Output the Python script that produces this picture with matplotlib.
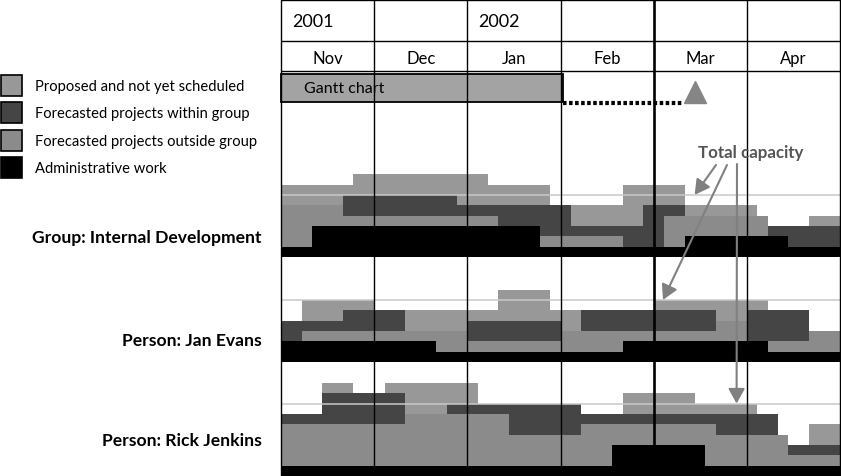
import numpy as np
import matplotlib
matplotlib.use("Agg")
import matplotlib.pyplot as plt
from matplotlib.patches import Rectangle

plt.rcParams["font.family"] = ["Lato", "DejaVu Sans"]

# ── data ────────────────────────────────────────────────────────────────────
# time in ninths of a month (~3 days) counted from 1 Nov 2001
months = ["Nov", "Dec", "Jan", "Feb", "Mar", "Apr"]
years = ["2001", "", "2002", "", "", ""]
today_month = 4          # Mar 2002 (heavy line)

gantt_end = 3.03         # months
milestone = 40           # ninths

layer_names = ["Administrative work", "Forecasted projects outside group",
               "Forecasted projects within group", "Proposed and not yet scheduled"]
layer_colors = ["#000000", "#8b8b8b", "#454545", "#989898"]

# Group: Internal Development
group_edges = [0, 3, 6, 7, 17, 20, 21, 25, 26, 28, 33, 35, 37, 39, 46, 47, 49, 51, 54]
group_admin = [1, 3, 3, 3, 3, 3, 3, 1, 1, 1, 1, 1, 1, 2, 2, 2, 1, 1]
group_outside = [4, 2, 1, 1, 1, 1, 0, 1, 1, 1, 0, 0, 3, 2, 2, 0, 0, 0]
group_within = [0, 0, 2, 2, 1, 1, 2, 3, 3, 1, 2, 4, 1, 0, 0, 1, 2, 2]
group_proposed = [2, 2, 1, 2, 3, 2, 2, 2, 0, 2, 4, 2, 2, 1, 0, 0, 0, 1]
group_capacity = 6

# Person: Jan Evans
jan_edges = [0, 2, 6, 9, 12, 15, 18, 21, 26, 27, 29, 33, 36, 42, 45, 47, 51, 54]
jan_admin = [2, 2, 2, 2, 2, 1, 1, 1, 1, 1, 1, 2, 2, 2, 2, 1, 1]
jan_outside = [0, 1, 1, 1, 1, 2, 1, 1, 1, 2, 2, 1, 1, 2, 0, 1, 2]
jan_within = [2, 1, 2, 2, 0, 0, 2, 2, 2, 0, 2, 2, 2, 0, 3, 3, 0]
jan_proposed = [0, 2, 1, 0, 2, 2, 1, 3, 1, 2, 0, 0, 1, 2, 1, 0, 0]
jan_capacity = 6

# Person: Rick Jenkins
rick_edges = [0, 4, 7, 10, 12, 16, 19, 22, 29, 32, 33, 40, 41, 42, 46, 48, 49, 51, 54]
rick_admin = [1, 1, 1, 1, 1, 1, 1, 1, 1, 3, 3, 3, 1, 1, 1, 1, 1, 1]
rick_outside = [4, 4, 4, 4, 5, 5, 5, 3, 4, 2, 2, 2, 4, 3, 3, 3, 1, 1]
rick_within = [1, 3, 3, 3, 0, 1, 1, 3, 1, 1, 1, 1, 1, 2, 2, 0, 1, 1]
rick_proposed = [0, 1, 0, 1, 3, 2, 0, 0, 0, 0, 2, 1, 1, 1, 0, 0, 0, 2]
rick_capacity = 7

sections = [
    ("Group: Internal Development", group_edges,
     [group_admin, group_outside, group_within, group_proposed], group_capacity, 258),
    ("Person: Jan Evans", jan_edges,
     [jan_admin, jan_outside, jan_within, jan_proposed], jan_capacity, 363),
    ("Person: Rick Jenkins", rick_edges,
     [rick_admin, rick_outside, rick_within, rick_proposed], rick_capacity, 477),
]

# ── figure ──────────────────────────────────────────────────────────────────
W, H = 841, 477
X0, X1 = 281, 840
UNIT = 10.35             # px per load unit
fig = plt.figure(figsize=(W / 100, H / 100), dpi=100)

sec_axes = []
for label, edges, layers, cap, base in sections:
    ax = fig.add_axes([X0 / W, 1 - base / H, (X1 - X0) / W, 9 * UNIT / H])
    ax.set_xlim(0, 6)
    ax.set_ylim(0, 9)
    ax.axis("off")
    x = np.array(edges) / 9
    lower = np.zeros(len(edges) - 1)
    for vals, color in zip(layers, layer_colors):
        upper = lower + np.array(vals)
        ax.fill_between(x, np.append(lower, lower[-1]), np.append(upper, upper[-1]),
                        step="post", color=color, lw=0, antialiased=False)
        lower = upper
    ax.axhline(cap, color="#c9c9c9", lw=1.1)
    sec_axes.append(ax)

# month grid, header and gantt bar
gx = fig.add_axes([X0 / W, 0, (X1 - X0) / W, 1])
gx.set_xlim(0, 6)
gx.set_ylim(H, 0)
gx.axis("off")
gx.set_zorder(5)
for m in range(len(months) + 1):
    gx.axvline(m, color="black", lw=1.9 if m == today_month else 1.0, clip_on=False)
gx.hlines([0.6, 42, 72], 0, len(months), color="black", lw=1.0, clip_on=False)
for i, (mon, yr) in enumerate(zip(months, years)):
    gx.text(i + 0.5, 59, mon, ha="center", va="center", fontsize=12)
    if yr:
        gx.text(i + 0.12, 22, yr, ha="left", va="center", fontsize=13)

gx.add_patch(Rectangle((0, 75), gantt_end, 28, facecolor="#a3a3a3",
                       edgecolor="black", lw=1.3, clip_on=False))
gx.text(0.25, 89, "Gantt chart", ha="left", va="center", fontsize=11.5)
gx.plot([gantt_end, milestone / 9 - 0.14], [103.5, 103.5], color="black", lw=3,
        linestyle=(0, (0.85, 0.6)))
gx.plot([milestone / 9], [92.5], marker="^", markersize=16, color="#858585")

# legend and row labels
ov = fig.add_axes([0, 0, 1, 1])
ov.set_xlim(0, W)
ov.set_ylim(H, 0)
ov.axis("off")
ov.set_zorder(10)
for i, name in enumerate(reversed(layer_names)):
    y = 76 + i * 27.4
    ov.add_patch(Rectangle((0.6, y), 21, 21, facecolor=layer_colors[3 - i],
                           edgecolor="black", lw=1.2))
    ov.text(35, y + 11, name, ha="left", va="center", fontsize=10.6)

for (label, edges, layers, cap, base), ypos in zip(sections, [238, 341, 441]):
    ov.text(262, ypos, label, ha="right", va="center", fontsize=12.6,
            fontweight="bold")

# "Total capacity" callout
ov.text(751, 153, "Total capacity", ha="center", va="center", fontsize=12.2,
        fontweight="bold", color="#555555")
arrow = dict(arrowstyle="-|>,head_length=0.9,head_width=0.5", color="#808080",
             lw=1.5, shrinkA=0, shrinkB=0)
targets = [(sec_axes[0], 4.44, group_capacity, 716, 166),
           (sec_axes[1], 4.10, jan_capacity, 727, 166),
           (sec_axes[2], 4.89, rick_capacity, 737, 165)]
for ax, tx, cap, sx, sy in targets:
    ov.annotate("", xy=(tx, cap), xycoords=ax.transData, xytext=(sx, sy),
                textcoords="data", arrowprops=arrow)

fig.savefig("out.png", dpi=100)
